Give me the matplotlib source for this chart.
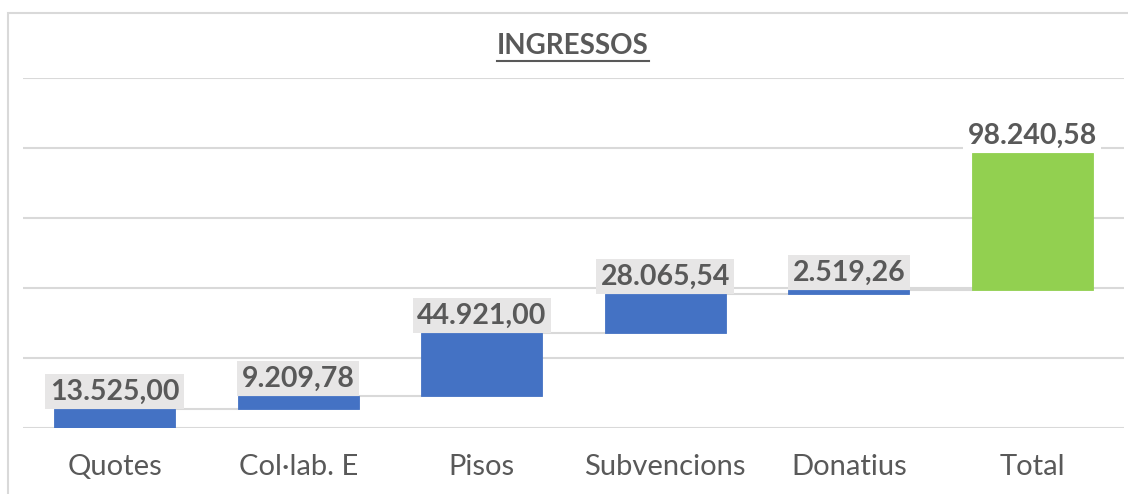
import numpy as np
import matplotlib
matplotlib.use("Agg")
import matplotlib.pyplot as plt
from matplotlib.lines import Line2D
from matplotlib.patches import Rectangle

plt.rcParams['font.family'] = ['Lato', 'DejaVu Sans']

# data
categories = ["Quotes", "Col·lab. E", "Pisos", "Subvencions", "Donatius", "Total"]
values = [13525.00, 9209.78, 44921.00, 28065.54, 2519.26]

total = sum(values)
heights = values + [total]
bottoms = list(np.concatenate([[0], np.cumsum(values)[:-1]])) + [np.sum(values)]

colors = ["#4472C4"] * len(values) + ["#92D050"]
grey_txt = "#595959"
grid_col = "#D9D9D9"


def eu_fmt(v):
    s = f"{v:,.2f}"
    return s.replace(",", "X").replace(".", ",").replace("X", ".")


fig = plt.figure(figsize=(11.28, 4.94), dpi=100)
ax = fig.add_axes([23 / 1128, 1 - 428 / 494, (1124 - 23) / 1128, (428 - 78) / 494])

x = np.arange(len(categories))
w = 0.66
ax.bar(x, heights, bottom=bottoms, width=w, color=colors, edgecolor=colors,
       linewidth=0.6, zorder=3)

# connectors
tops = [b + h for b, h in zip(bottoms, heights)]
for i in range(len(categories) - 1):
    ax.plot([x[i] + w / 2, x[i + 1] - w / 2], [tops[i], tops[i]],
            color=grid_col, lw=1.5, zorder=2)

# labels
lab_fs = 20.5
lab_pad = 0.16
for i, (t, h) in enumerate(zip(tops, heights)):
    fc = "white" if i == len(categories) - 1 else "#E7E6E6"
    ax.annotate(eu_fmt(h), (x[i], t), xytext=(0, lab_pad * lab_fs),
                textcoords="offset points",
                ha="center", va="bottom", fontsize=lab_fs, fontweight="bold",
                color=grey_txt, zorder=5,
                bbox=dict(boxstyle=f"square,pad={lab_pad}", fc=fc, ec="none"))

ax.set_xlim(-0.5, len(categories) - 0.5)
ax.set_ylim(0, 250000)
ax.set_yticks(np.arange(0, 250001, 50000))
ax.yaxis.grid(True, color=grid_col, lw=1.5, zorder=0)
ax.set_axisbelow(True)
ax.tick_params(axis="y", left=False, labelleft=False)
ax.tick_params(axis="x", length=0, pad=19, labelsize=21, labelcolor=grey_txt)
ax.set_xticks(x)
ax.set_xticklabels(categories)
for s in ax.spines.values():
    s.set_visible(False)

# title with underline
title = fig.text(573 / 1128, 1 - 46 / 494, "INGRESSOS", ha="center", va="center",
                 fontsize=20, fontweight="bold", color=grey_txt)
fig.canvas.draw()
bb = title.get_window_extent().transformed(fig.transFigure.inverted())
fig.add_artist(Line2D([bb.x0, bb.x1], [1 - 61 / 494, 1 - 61 / 494],
                      transform=fig.transFigure, color=grey_txt, lw=1.5))

# chart border
fig.add_artist(Rectangle((8 / 1128, -0.1), 1.2, 1.1 - 13 / 494,
                         transform=fig.transFigure, fill=False, ec=grid_col, lw=1.5))

fig.savefig("out.png", dpi=100)
